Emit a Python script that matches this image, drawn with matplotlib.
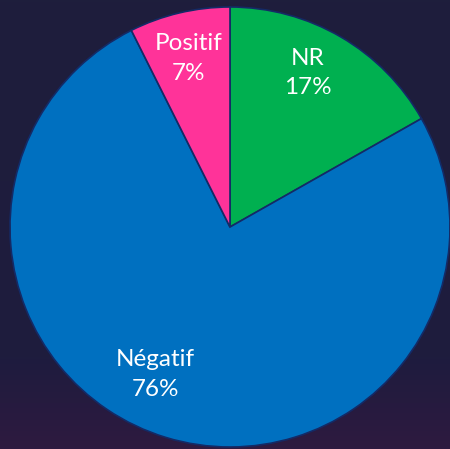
import matplotlib.pyplot as plt
import numpy as np
from matplotlib.colors import LinearSegmentedColormap

categories = ['NR', 'Négatif', 'Positif']
values = [16.8, 75.8, 7.4]
pct_labels = ['17%', '76%', '7%']
colors = ['#00b050', '#0070c0', '#ff3399']
# label anchor points in pie coordinates (radius 1)
label_pos = [(0.355, 0.70), (-0.34, -0.67), (-0.19, 0.765)]

plt.rcParams['font.family'] = ['Lato', 'DejaVu Sans']

fig = plt.figure(figsize=(4.5, 4.49), dpi=100)

# background with slight purple gradient at the bottom
bg = fig.add_axes([0, 0, 1, 1])
bg.axis('off')
grad = np.linspace(0, 1, 449).reshape(-1, 1)
cmap = LinearSegmentedColormap.from_list(
    'bg', [(0, '#1e1e3c'), (0.8, '#1e1c3e'), (1.0, '#2e1a40')])
bg.imshow(grad, aspect='auto', cmap=cmap, extent=[0, 1, 0, 1], origin='upper')
bg.set_xlim(0, 1)
bg.set_ylim(0, 1)

ax = fig.add_axes([10 / 450, 2 / 449, 440 / 450, 440 / 449])
wedges, _ = ax.pie(values, colors=colors, startangle=90, counterclock=False,
                   radius=1, wedgeprops=dict(edgecolor='#142a66', linewidth=1.2))
for w in wedges:
    w.set_clip_on(False)
ax.set_xlim(-1, 1)
ax.set_ylim(-1, 1)
ax.axis('off')

for cat, p, (x, y) in zip(categories, pct_labels, label_pos):
    ax.text(x, y, f'{cat}\n{p}', ha='center', va='center', color='white',
            fontsize=17.5, linespacing=1.5)

fig.savefig('out.png', dpi=100)
